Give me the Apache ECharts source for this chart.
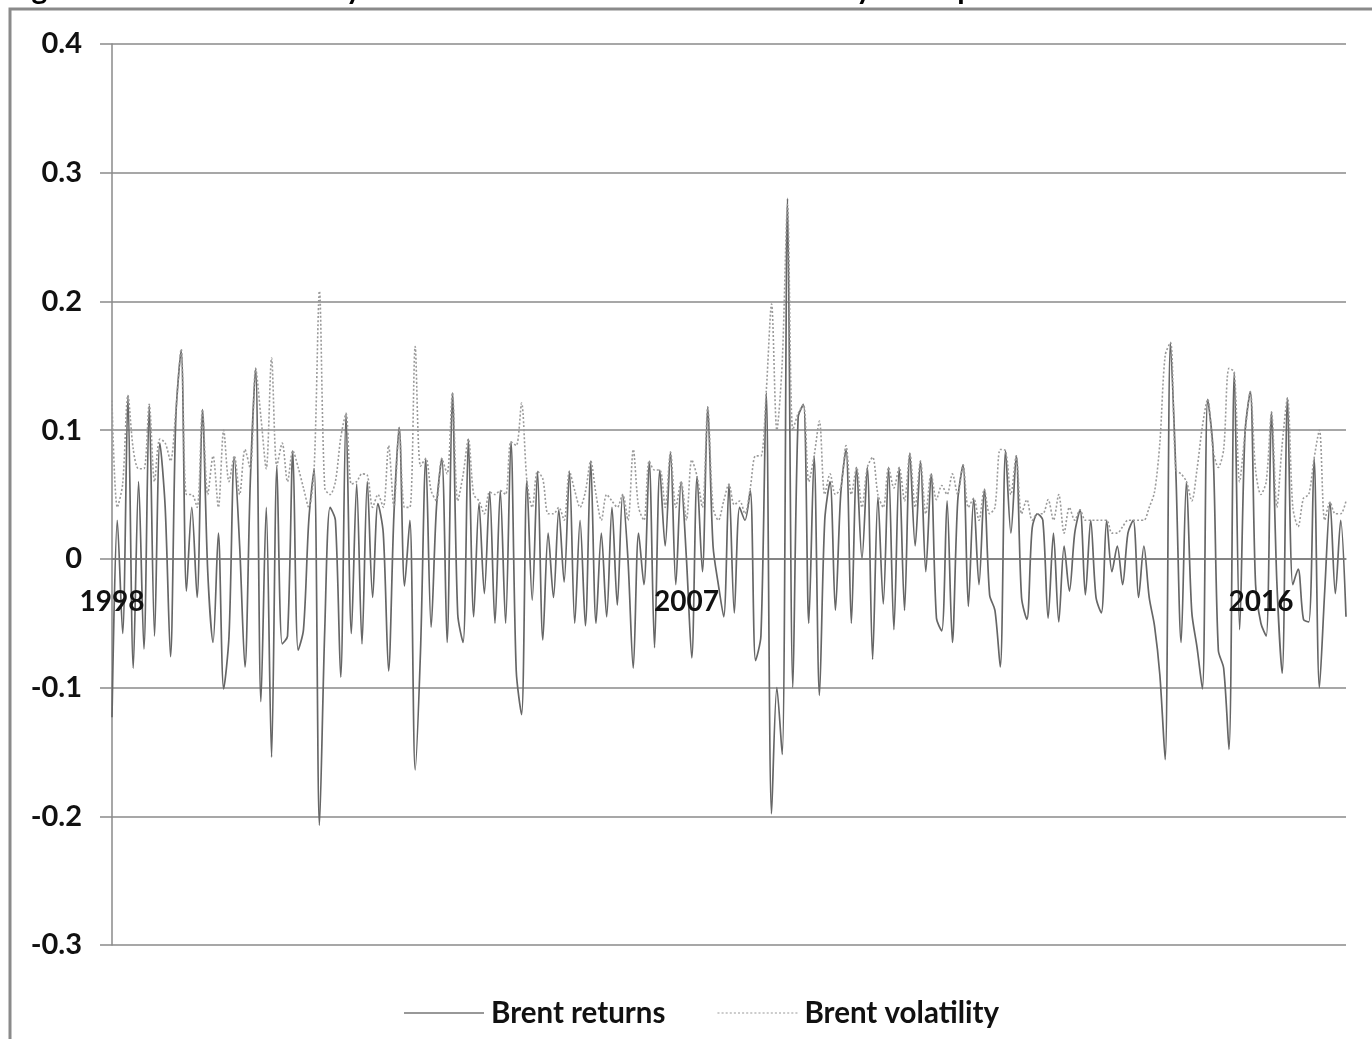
<!DOCTYPE html>
<html><head><meta charset="utf-8">
<script src="https://cdn.jsdelivr.net/npm/echarts@6/dist/echarts.min.js"></script>
<style>html,body{margin:0;padding:0;background:#fff}#c{width:1372px;height:1039px}</style>
</head><body><div id="c"></div>
<script>
const startYear = 1998, startMonth = 7;
const returns = [
-0.123,0.03,-0.058,0.127,-0.085,0.06,-0.07,0.119,-0.06,0.09,
0.04,-0.076,0.11,0.162,-0.025,0.04,-0.03,0.116,-0.01,-0.065,
0.02,-0.101,-0.06,0.079,0.01,-0.084,0.06,0.148,-0.111,0.04,
-0.154,0.072,-0.066,-0.06,0.084,-0.071,-0.055,0.03,0.07,-0.207,
-0.055,0.04,0.03,-0.092,0.113,-0.058,0.058,-0.066,0.06,-0.03,
0.043,0.02,-0.087,0.034,0.102,-0.021,0.03,-0.164,-0.072,0.078,
-0.053,0.04,0.078,-0.065,0.129,-0.043,-0.065,0.093,-0.045,0.043,
-0.027,0.052,-0.05,0.053,-0.05,0.091,-0.087,-0.121,0.061,-0.032,
0.068,-0.063,0.02,-0.03,0.038,-0.018,0.068,-0.05,0.03,-0.052,
0.076,-0.05,0.02,-0.045,0.04,-0.036,0.05,0.0,-0.085,0.02,
-0.02,0.076,-0.069,0.069,0.01,0.083,-0.02,0.06,0.0,-0.077,
0.064,-0.01,0.118,0.01,-0.02,-0.045,0.058,-0.042,0.04,0.03,
0.053,-0.079,-0.06,0.129,-0.198,-0.10,-0.152,0.28,-0.10,0.11,
0.12,-0.05,0.08,-0.106,0.03,0.06,-0.04,0.05,0.085,-0.05,
0.071,0.0,0.071,-0.078,0.048,-0.035,0.071,-0.055,0.071,-0.04,
0.082,0.01,0.076,-0.01,0.066,-0.046,-0.056,0.045,-0.065,0.045,
0.073,-0.037,0.047,-0.02,0.054,-0.028,-0.04,-0.084,0.084,0.02,
0.08,-0.03,-0.047,0.024,0.035,0.03,-0.046,0.02,-0.049,0.01,
-0.025,0.02,0.038,-0.028,0.03,-0.03,-0.042,0.03,-0.01,0.01,
-0.02,0.02,0.03,-0.03,0.01,-0.03,-0.052,-0.09,-0.156,0.168,
0.069,-0.065,0.06,-0.041,-0.069,-0.101,0.124,0.085,-0.071,-0.085,
-0.148,0.145,-0.055,0.097,0.13,-0.02,-0.05,-0.06,0.114,-0.018,
-0.089,0.125,-0.02,-0.008,-0.047,-0.049,0.078,-0.1,-0.025,0.044,
-0.027,0.03,-0.045
];
const volatility = [
0.123,0.04,0.058,0.127,0.085,0.07,0.07,0.12,0.06,0.093,
0.09,0.076,0.115,0.163,0.05,0.05,0.04,0.116,0.05,0.08,
0.04,0.10,0.06,0.08,0.05,0.085,0.07,0.148,0.11,0.07,
0.156,0.072,0.09,0.06,0.084,0.071,0.055,0.04,0.07,0.208,
0.055,0.05,0.06,0.094,0.113,0.058,0.06,0.066,0.065,0.04,
0.05,0.04,0.088,0.04,0.102,0.04,0.04,0.165,0.072,0.078,
0.053,0.045,0.078,0.066,0.129,0.045,0.065,0.093,0.05,0.045,
0.035,0.052,0.05,0.053,0.05,0.091,0.088,0.121,0.061,0.04,
0.068,0.062,0.035,0.035,0.04,0.03,0.068,0.053,0.04,0.052,
0.076,0.05,0.03,0.05,0.045,0.04,0.05,0.03,0.085,0.04,
0.03,0.076,0.069,0.069,0.04,0.083,0.04,0.06,0.03,0.077,
0.064,0.04,0.118,0.04,0.03,0.045,0.058,0.042,0.045,0.035,
0.055,0.08,0.08,0.13,0.198,0.10,0.152,0.275,0.10,0.113,
0.12,0.06,0.08,0.107,0.05,0.066,0.05,0.055,0.088,0.05,
0.071,0.04,0.071,0.079,0.05,0.04,0.071,0.055,0.071,0.045,
0.082,0.04,0.076,0.035,0.066,0.046,0.057,0.05,0.066,0.05,
0.073,0.04,0.047,0.03,0.054,0.035,0.04,0.085,0.084,0.05,
0.08,0.035,0.046,0.03,0.035,0.035,0.046,0.03,0.05,0.02,
0.04,0.03,0.038,0.03,0.03,0.03,0.03,0.03,0.02,0.02,
0.025,0.03,0.03,0.03,0.03,0.04,0.052,0.09,0.158,0.168,
0.069,0.066,0.06,0.045,0.07,0.103,0.124,0.085,0.071,0.085,
0.148,0.145,0.06,0.097,0.13,0.069,0.05,0.06,0.114,0.04,
0.089,0.125,0.04,0.025,0.047,0.05,0.078,0.1,0.03,0.044,
0.035,0.035,0.045
];
const yTickLabels = ['-0.3','-0.2','-0.1','0','0.1','0.2','0.3','0.4'];
const seriesNames = ['Brent returns','Brent volatility'];
const titleText = 'Figure 1. Brent oil monthly returns and their conditional volatility – sample 1998–2017';

const categories = returns.map((_, i) => {
  const m = startMonth - 1 + i;
  return (startYear + Math.floor(m / 12)) + '-' + String(m % 12 + 1).padStart(2, '0');
});

// dotted legend icon path
let dotPath = 'path://';
for (let k = 0; k < 80; k += 4) dotPath += 'M' + k + ',0 L' + (k + 2) + ',0 L' + (k + 2) + ',1 L' + k + ',1 Z ';

const FONT = 'Lato';
const chart = echarts.init(document.getElementById('c'), null, {renderer: 'canvas'});
chart.setOption({
  animation: false,
  backgroundColor: '#fff',
  grid: {left: 112, right: 26, top: 44, bottom: 94, containLabel: false},
  legend: {
    left: 399, top: 993,
    itemWidth: 80, itemHeight: 14, itemGap: 52,
    textStyle: {fontFamily: FONT, fontWeight: 'bold', fontSize: 29.5, color: '#111', padding: [0, 0, 0, 2]},
    data: [
      {name: seriesNames[0], icon: 'path://M0,0 L80,0 L80,1 L0,1 Z', itemStyle: {color: '#333'}},
      {name: seriesNames[1], icon: dotPath, itemStyle: {color: '#999'}}
    ]
  },
  xAxis: {
    type: 'category',
    data: categories,
    boundaryGap: false,
    z: 10,
    offset: -386,
    axisLine: {onZero: false, lineStyle: {color: '#7a7a7a', width: 1.5}},
    axisTick: {show: false},
    splitLine: {show: false},
    axisLabel: {
      interval: 107,
      margin: 29,
      fontFamily: FONT, fontWeight: 'bold', fontSize: 28, color: '#111',
      formatter: v => v.slice(0, 4)
    }
  },
  yAxis: {
    type: 'value',
    min: -0.3, max: 0.4, interval: 0.1,
    axisLine: {show: true, lineStyle: {color: '#8a8a8a', width: 1.5}},
    axisTick: {show: true, length: 12, inside: false, lineStyle: {color: '#8a8a8a', width: 1.5}},
    splitLine: {lineStyle: {color: '#8a8a8a', width: 1.5}},
    axisLabel: {
      margin: 30,
      fontFamily: FONT, fontWeight: 'bold', fontSize: 29, color: '#111',
      formatter: v => yTickLabels[Math.round((v + 0.3) / 0.1)]
    }
  },
  series: [
    {
      name: seriesNames[0], type: 'line', data: returns, symbol: 'none', z: 2, smooth: 0.3,
      lineStyle: {color: '#666', width: 1.7},
      itemStyle: {color: '#666'}
    },
    {
      name: seriesNames[1], type: 'line', data: volatility, symbol: 'none', z: 3, smooth: 0.3,
      lineStyle: {color: '#9a9a9a', width: 1.6, type: [2, 2]},
      itemStyle: {color: '#9a9a9a'}
    }
  ],
  graphic: [
    {type: 'rect', shape: {x: 10, y: 9, width: 1400, height: 1100}, style: {fill: 'none', stroke: '#8a8a8a', lineWidth: 3}, z: 100},
    {type: 'text', x: 7, y: 4, style: {text: titleText, font: 'bold 30px ' + FONT, fill: '#000', verticalAlign: 'bottom', align: 'left'}, z: 99}
  ]
});
</script></body></html>
